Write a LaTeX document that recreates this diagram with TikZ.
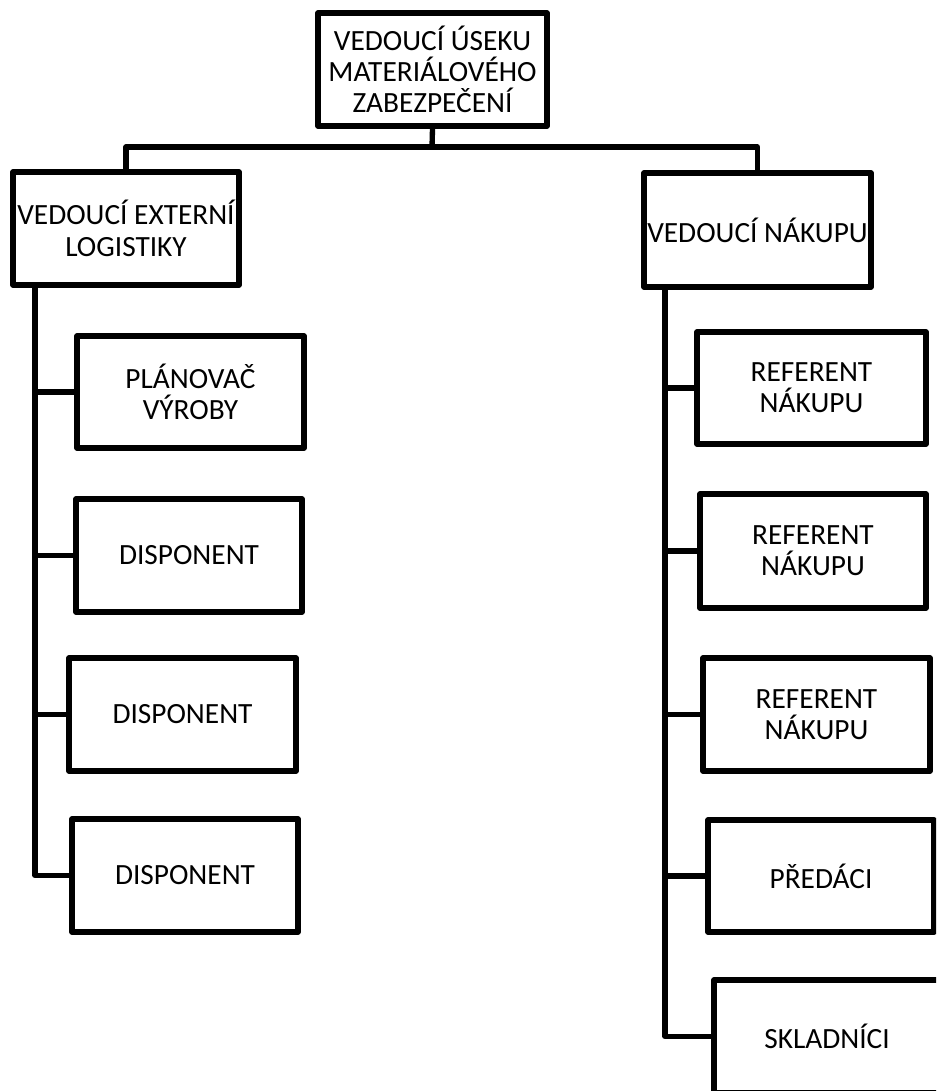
\documentclass[tikz,border=0pt]{standalone}
\usepackage{fontspec}
\setmainfont{Carlito}
\begin{document}
\begin{tikzpicture}[x=0.75pt,y=-0.75pt,
  box/.style={draw=black, fill=white, line width=4pt, line join=round, rectangle,
    align=center, inner sep=0pt, font=\fontsize{22}{23.5}\selectfont,
    minimum width=#1},
  box/.default=226pt,
  conn/.style={draw=black, line width=4pt, line join=round}]
\useasboundingbox (0,0) rectangle (936,1091);
\clip (0,0) rectangle (936,1091);
\coordinate (bus) at (432,147);
\coordinate (lt) at (35,285);
\coordinate (rt) at (665,287);
% nodes
\node[box=229*0.75pt, minimum height=113*0.75pt] (top) at (432.5,69.5) {VEDOUCÍ ÚSEKU\\MATERIÁLOVÉHO\\ZABEZPEČENÍ};
\node[box=226*0.75pt, minimum height=113*0.75pt] (L1) at (126,228.5) {VEDOUCÍ EXTERNÍ\\LOGISTIKY};
\node[box=227*0.75pt, minimum height=114*0.75pt] (R1) at (757.5,230) {VEDOUCÍ NÁKUPU};
\node[box=227*0.75pt, minimum height=112*0.75pt] (P) at (190.5,392) {PLÁNOVAČ\\VÝROBY};
\node[box=226*0.75pt, minimum height=113*0.75pt] (D1) at (189,555.5) {DISPONENT};
\node[box=227*0.75pt, minimum height=113*0.75pt] (D2) at (182.5,714.5) {DISPONENT};
\node[box=226*0.75pt, minimum height=113*0.75pt] (D3) at (185,875.5) {DISPONENT};
\node[box=229*0.75pt, minimum height=112*0.75pt] (RF1) at (811.5,388) {REFERENT\\NÁKUPU};
\node[box=226*0.75pt, minimum height=114*0.75pt] (RF2) at (813,551) {REFERENT\\NÁKUPU};
\node[box=227*0.75pt, minimum height=113*0.75pt] (RF3) at (816.5,714.5) {REFERENT\\NÁKUPU};
\node[box=226*0.75pt, minimum height=112*0.75pt] (PR) at (821,876) {PŘEDÁCI};
\node[box=226*0.75pt, minimum height=113*0.75pt] (SK) at (827,1036.5) {SKLADNÍCI};
% connectors
\draw[conn] (top.south) -- (bus);
\draw[conn] (L1.north) |- (bus) -| (R1.north);
\draw[conn] (lt) |- (D3.west);
\draw[conn] (P.west -| lt) -- (P.west);
\draw[conn] (D1.west -| lt) -- (D1.west);
\draw[conn] (D2.west -| lt) -- (D2.west);
\draw[conn] (rt) |- (SK.west);
\draw[conn] (RF1.west -| rt) -- (RF1.west);
\draw[conn] (RF2.west -| rt) -- (RF2.west);
\draw[conn] (RF3.west -| rt) -- (RF3.west);
\draw[conn] (PR.west -| rt) -- (PR.west);
\end{tikzpicture}
\end{document}
